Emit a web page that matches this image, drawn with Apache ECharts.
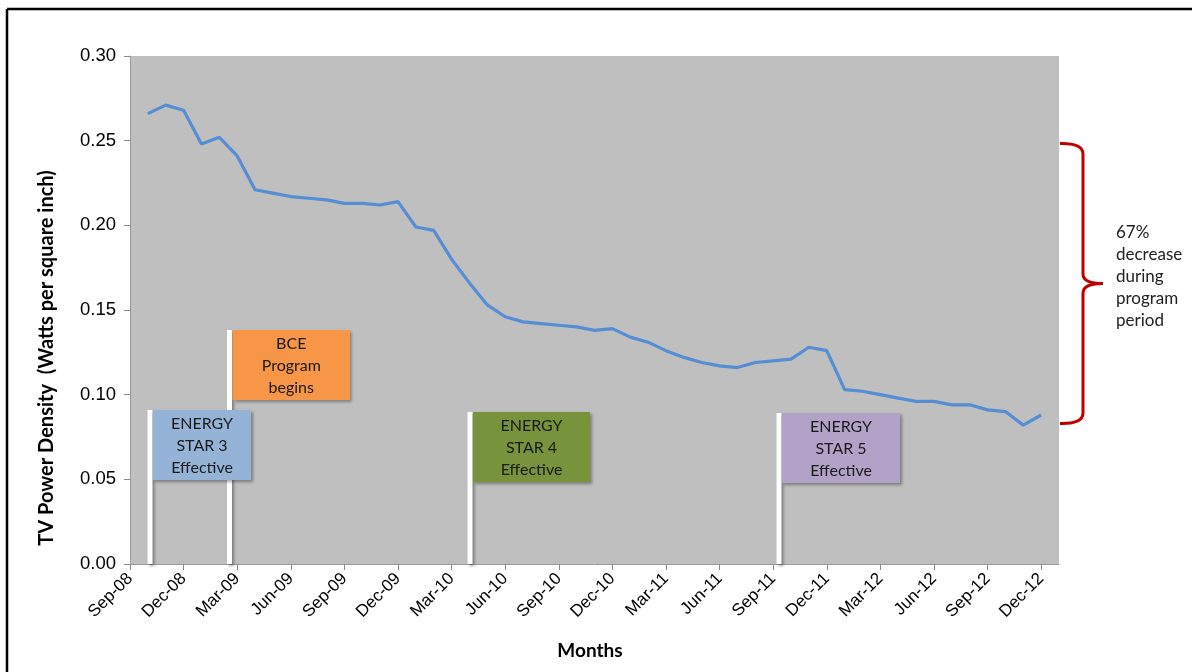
<!DOCTYPE html>
<html>
<head>
<meta charset="utf-8">
<script src="https://cdn.jsdelivr.net/npm/echarts@6/dist/echarts.min.js"></script>
<style>
  html, body { margin: 0; padding: 0; background: #fff; }
  #chart { width: 1192px; height: 672px; }
</style>
</head>
<body>
<div id="chart"></div>
<script>
// Month categories (the axis runs one month past the last reading)
const months = [
  'Sep-08','Oct-08','Nov-08','Dec-08',
  'Jan-09','Feb-09','Mar-09','Apr-09','May-09','Jun-09','Jul-09','Aug-09','Sep-09','Oct-09','Nov-09','Dec-09',
  'Jan-10','Feb-10','Mar-10','Apr-10','May-10','Jun-10','Jul-10','Aug-10','Sep-10','Oct-10','Nov-10','Dec-10',
  'Jan-11','Feb-11','Mar-11','Apr-11','May-11','Jun-11','Jul-11','Aug-11','Sep-11','Oct-11','Nov-11','Dec-11',
  'Jan-12','Feb-12','Mar-12','Apr-12','May-12','Jun-12','Jul-12','Aug-12','Sep-12','Oct-12','Nov-12','Dec-12',
  'Jan-13'
];

// Average TV power density, watts per square inch (first reading Oct-08)
const powerDensity = [
  null, 0.266, 0.271, 0.268,
  0.248, 0.252, 0.241, 0.221, 0.219, 0.217, 0.216, 0.215, 0.213, 0.213, 0.212, 0.214,
  0.199, 0.197, 0.180, 0.166, 0.153, 0.146, 0.143, 0.142, 0.141, 0.140, 0.138, 0.139,
  0.134, 0.131, 0.126, 0.122, 0.119, 0.117, 0.116, 0.119, 0.120, 0.121, 0.128, 0.126,
  0.103, 0.102, 0.100, 0.098, 0.096, 0.096, 0.094, 0.094, 0.091, 0.090, 0.082, 0.088
];

// Milestone flags
const flagTexts = [
  'ENERGY\nSTAR 3\nEffective',
  'BCE\nProgram\nbegins',
  'ENERGY\nSTAR 4\nEffective',
  'ENERGY\nSTAR 5\nEffective'
];
const flagColors = ['#95B3D7', '#F79646', '#77933C', '#B3A2C7'];

const braceNote = '67%\ndecrease\nduring\nprogram\nperiod';

const LABEL_FONT = '"Liberation Sans", Arial, sans-serif';
const NOTE_FONT = 'Lato, "Open Sans", sans-serif';

const chart = echarts.init(document.getElementById('chart'), null, { renderer: 'canvas' });

// flag layout: pole x, flag top, box right edge
const flagLayout = [
  { pole: 150, top: 410, right: 251 },
  { pole: 229.5, top: 330, right: 350 },
  { pole: 470, top: 412, right: 590 },
  { pole: 779, top: 413, right: 900 }
];
const AXIS_BOTTOM = 564;
const BOX_H = 70;

const shadow = { shadowBlur: 3, shadowOffsetX: 2, shadowOffsetY: 2, shadowColor: 'rgba(0,0,0,0.35)' };

const graphics = [];
// outer frame (top and left edges visible)
graphics.push({
  type: 'line', z: 0,
  shape: { x1: 7, y1: 9, x2: 1200, y2: 9 },
  style: { stroke: '#000', lineWidth: 2.5 }
});
graphics.push({
  type: 'line', z: 0,
  shape: { x1: 7, y1: 9, x2: 7, y2: 700 },
  style: { stroke: '#000', lineWidth: 2.5 }
});

// flag poles sit under the flag boxes
flagLayout.forEach((f) => {
  graphics.push({
    type: 'rect', z: 10,
    shape: { x: f.pole - 2.5, y: f.top, width: 5, height: AXIS_BOTTOM - f.top },
    style: Object.assign({ fill: '#ffffff' }, shadow)
  });
});
flagLayout.forEach((f, i) => {
  const boxX = f.pole + 3;
  graphics.push({
    type: 'rect', z: 11,
    shape: { x: boxX, y: f.top, width: f.right - boxX, height: BOX_H },
    style: Object.assign({ fill: flagColors[i] }, shadow)
  });
  graphics.push({
    type: 'text', z: 12,
    x: (boxX + f.right) / 2, y: f.top + BOX_H / 2 + 1,
    style: {
      text: flagTexts[i], font: '16px ' + NOTE_FONT, fill: '#1a1a1a',
      align: 'center', verticalAlign: 'middle',
      lineHeight: 22
    }
  });
});

// red brace spanning the program-period decline
const braceStyle = { stroke: '#C00000', lineWidth: 3, fill: null };
const braceParts = [
  { type: 'bezierCurve', shape: { x1: 1060, y1: 143.5, cpx1: 1083, cpy1: 143, x2: 1083, y2: 154 } },
  { type: 'line', shape: { x1: 1083, y1: 154, x2: 1083, y2: 274 } },
  { type: 'bezierCurve', shape: { x1: 1083, y1: 274, cpx1: 1083, cpy1: 283.5, x2: 1103, y2: 283.5 } },
  { type: 'bezierCurve', shape: { x1: 1103, y1: 283.5, cpx1: 1083, cpy1: 283.5, x2: 1083, y2: 293 } },
  { type: 'line', shape: { x1: 1083, y1: 293, x2: 1083, y2: 413 } },
  { type: 'bezierCurve', shape: { x1: 1083, y1: 413, cpx1: 1083, cpy1: 424, x2: 1060, y2: 423.5 } }
];
braceParts.forEach((p) => {
  graphics.push(Object.assign({ z: 5, style: braceStyle }, p));
});
graphics.push({
  type: 'text', z: 5, x: 1116, y: 277,
  style: {
    text: braceNote, font: '17px ' + NOTE_FONT, fill: '#222',
    align: 'left', verticalAlign: 'middle',
    lineHeight: 22
  }
});

// axis titles
graphics.push({
  type: 'text', z: 5, x: 47, y: 358, rotation: Math.PI / 2,
  style: {
    text: 'TV Power Density  (Watts per square inch)', font: 'bold 20px ' + NOTE_FONT, fill: '#000',
    align: 'center', verticalAlign: 'middle'
  }
});
graphics.push({
  type: 'text', z: 5, x: 590, y: 651,
  style: {
    text: 'Months', font: 'bold 19px ' + NOTE_FONT, fill: '#000',
    align: 'center', verticalAlign: 'middle'
  }
});

chart.setOption({
  animation: false,
  backgroundColor: '#ffffff',
  grid: {
    left: 130, top: 56, right: 133, bottom: 108,
    show: true, backgroundColor: '#BFBFBF', borderWidth: 0
  },
  xAxis: {
    type: 'category',
    data: months,
    boundaryGap: false,
    axisLine: { show: true, lineStyle: { color: '#9a9a9a', width: 1 } },
    axisTick: { show: true, interval: 2, length: 6, lineStyle: { color: '#8a8a8a' } },
    axisLabel: {
      interval: 2, rotate: 45, margin: 12,
      fontFamily: LABEL_FONT, fontSize: 17, color: '#000'
    },
    splitLine: { show: false }
  },
  yAxis: {
    type: 'value',
    min: 0, max: 0.3, interval: 0.05,
    axisLine: { show: true, lineStyle: { color: '#9a9a9a', width: 1 } },
    axisTick: { show: true, length: 6, lineStyle: { color: '#8a8a8a' } },
    axisLabel: {
      margin: 14, fontFamily: LABEL_FONT, fontSize: 18.5, color: '#000',
      formatter: (v) => v.toFixed(2)
    },
    splitLine: { show: false }
  },
  series: [{
    type: 'line',
    data: powerDensity,
    showSymbol: false,
    symbol: 'none',
    connectNulls: false,
    lineStyle: { color: '#558ED5', width: 3.2 },
    z: 3
  }],
  graphic: graphics
});
</script>
</body>
</html>
